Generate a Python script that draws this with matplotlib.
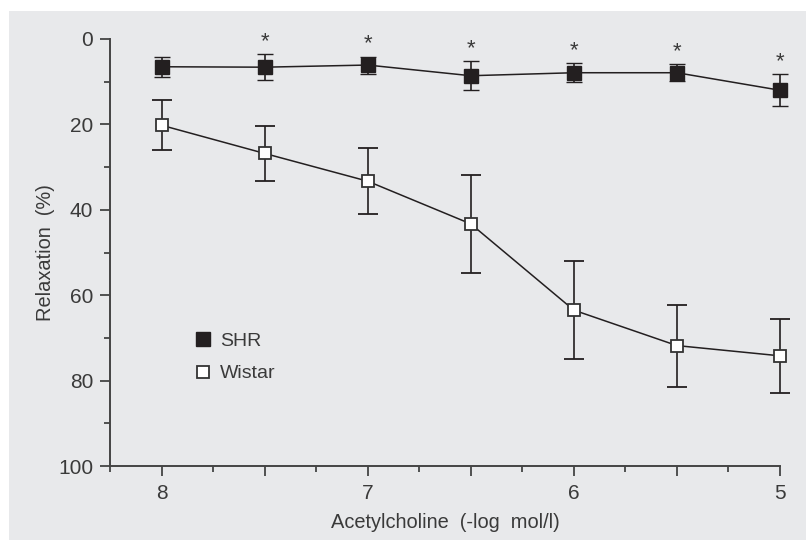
import matplotlib
matplotlib.use("Agg")
import matplotlib.pyplot as plt
from matplotlib.patches import Rectangle
from matplotlib.lines import Line2D
from matplotlib.ticker import MultipleLocator, FixedLocator

plt.rcParams['font.family'] = ['Liberation Sans', 'DejaVu Sans']

# acetylcholine concentration (-log mol/l)
dose = [8, 7.5, 7, 6.5, 6, 5.5, 5]

# SHR (filled squares)
shr_mean = [6.5, 6.6, 6.1, 8.6, 7.9, 7.9, 12.0]
shr_err = [2.4, 3.0, 2.0, 3.4, 2.2, 2.0, 3.8]
shr_star = [False, True, True, True, True, True, True]

# Wistar (open squares)
wis_mean = [20.2, 26.8, 33.3, 43.3, 63.5, 71.8, 74.2]
wis_err = [5.8, 6.4, 7.7, 11.5, 11.4, 9.6, 8.7]

bg = '#e8e9eb'
ink = '#231f20'
txt = '#3a3a3a'

fig = plt.figure(figsize=(8.06, 5.40), dpi=100)
fig.patches.append(Rectangle((9 / 806, 0), 1, 1 - 11 / 540, transform=fig.transFigure,
                             facecolor=bg, edgecolor='none', zorder=-10))
ax = fig.add_axes([110 / 806, 1 - 466 / 540, 670 / 806, 427 / 540])
ax.set_facecolor('none')

wis = ax.errorbar(dose, wis_mean, yerr=wis_err, color=ink, lw=1.1, elinewidth=1.2,
                  capsize=7.5, capthick=1.2, marker='s', ms=9, mfc='white', mec='#333333',
                  mew=1.3, zorder=3)
shr = ax.errorbar(dose, shr_mean, yerr=shr_err, color=ink, lw=1.1, elinewidth=1.2,
                  capsize=5.5, capthick=1.2, marker='s', ms=9.5, mfc=ink, mec=ink,
                  mew=1.0, zorder=3)
for eb in (wis, shr):
    for art in eb.get_children():
        art.set_clip_on(False)

for x, m, e, s in zip(dose, shr_mean, shr_err, shr_star):
    if s:
        ax.text(x, m - e - 2.9, '*', ha='center', va='center', fontsize=16, color=txt)

ax.set_xlim(8.25, 5)
ax.set_ylim(100, 0)

ax.xaxis.set_major_locator(FixedLocator([8, 7.5, 7, 6.5, 6, 5.5, 5]))
ax.set_xticklabels(['8', '', '7', '', '6', '', '5'])
ax.xaxis.set_minor_locator(FixedLocator([8.25, 7.75, 7.25, 6.75, 6.25, 5.75, 5.25]))
ax.yaxis.set_major_locator(MultipleLocator(20))
ax.yaxis.set_minor_locator(MultipleLocator(10))

for side in ['top', 'right']:
    ax.spines[side].set_visible(False)
for side in ['left', 'bottom']:
    ax.spines[side].set_color('#444444')
    ax.spines[side].set_linewidth(1.4)

ax.tick_params(axis='both', which='major', length=7, width=1.3, color='#444444',
               labelsize=15, labelcolor=txt, pad=6)
ax.tick_params(axis='both', which='minor', length=4, width=1.3, color='#444444')
ax.tick_params(axis='y', which='major', pad=5)

ax.set_xlabel('Acetylcholine  (-log  mol/l)', fontsize=14.4, color=txt, labelpad=7)
ax.set_ylabel('Relaxation  (%)', fontsize=14.4, color=txt, labelpad=2)

handles = [
    Line2D([], [], ls='none', marker='s', ms=9.5, mfc=ink, mec=ink, label='SHR'),
    Line2D([], [], ls='none', marker='s', ms=9, mfc='white', mec='#333333', mew=1.3,
           label='Wistar'),
]
ax.legend(handles=handles, loc='upper left', bbox_to_anchor=(0.112, 0.335), frameon=False,
          fontsize=14, labelcolor=txt, handlelength=0.8, handletextpad=0.5,
          labelspacing=0.75, borderpad=0)

fig.savefig('out.png', dpi=100, facecolor='white')
